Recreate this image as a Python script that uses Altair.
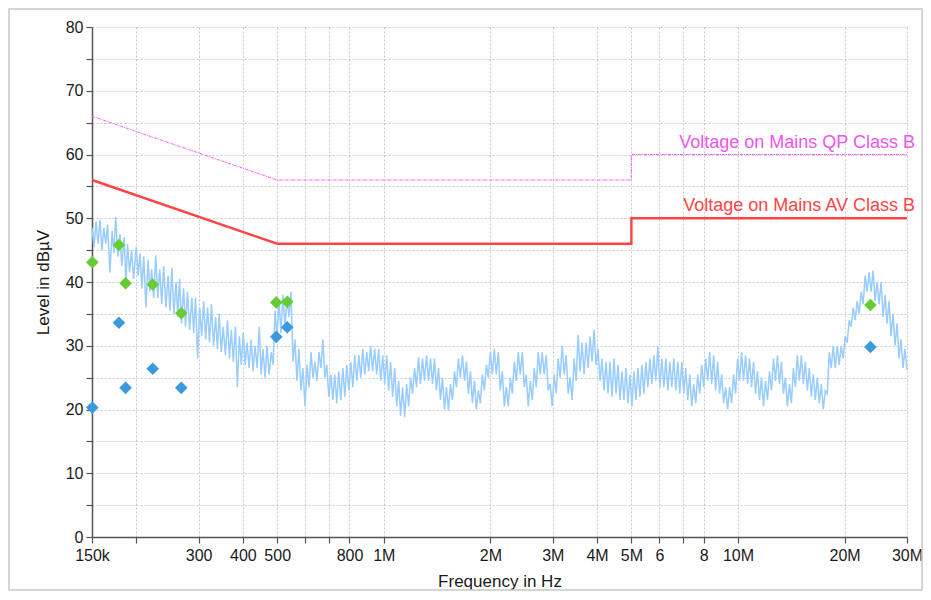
import altair as alt
import pandas as pd

# ---- measured spectrum (frequency in kHz, level in dBµV) ----
# upper edge of the noisy trace
trace_top_freq_khz = [
    150, 154, 158, 162, 166, 171, 175, 180, 185, 189,
    194, 200, 205, 210, 216, 221, 227, 233, 239, 246,
    252, 259, 265, 272, 279, 287, 294, 302, 310, 318,
    326, 335, 343, 352, 362, 371, 381, 391, 401, 411,
    422, 433, 445, 456, 468, 481, 493, 506, 519, 533,
    547, 561, 576, 591, 607, 623, 639, 656, 673, 690,
    709, 727, 746, 766, 786, 807, 828, 850, 872, 895,
    918, 942, 967, 993, 1019, 1045, 1073, 1101, 1130, 1160,
    1190, 1221, 1253, 1286, 1320, 1355, 1390, 1427, 1464, 1503,
    1542, 1583, 1624, 1667, 1711, 1756, 1802, 1849, 1898, 1948,
    1999, 2051, 2105, 2161, 2217, 2276, 2336, 2397, 2460, 2524,
    2591, 2659, 2729, 2800, 2874, 2949, 3027, 3106, 3188, 3272,
    3358, 3446, 3536, 3629, 3725, 3822, 3923, 4026, 4131, 4240,
    4351, 4466, 4583, 4703, 4827, 4953, 5083, 5217, 5354, 5494,
    5639, 5787, 5939, 6095, 6255, 6419, 6587, 6760, 6938, 7120,
    7307, 7499, 7696, 7898, 8105, 8318, 8536, 8760, 8990, 9226,
    9469, 9717, 9972, 10234, 10503, 10779, 11062, 11352, 11650, 11956,
    12270, 12592, 12923, 13262, 13610, 13967, 14334, 14710, 15096, 15493,
    15899, 16317, 16745, 17184, 17635, 18098, 18573, 19061, 19561, 20075,
    20601, 21142, 21697, 22267, 22851, 23451, 24067, 24698, 25347, 26012,
    26695, 27396, 28115, 28853, 29610, 30000,
]
trace_top_level = [
    48.5, 49.5, 49.8, 48.5, 49.0, 48.0, 50.2, 47.5, 47.0, 46.0,
    45.0, 45.5, 44.5, 44.0, 43.5, 42.0, 44.2, 42.0, 42.5, 41.0,
    42.2, 40.0, 40.5, 39.0, 38.5, 37.5, 37.5, 36.0, 37.0, 36.0,
    36.5, 34.5, 35.0, 33.0, 34.0, 32.5, 33.0, 31.5, 32.0, 30.5,
    31.0, 30.0, 33.0, 29.5, 30.0, 29.0, 35.5, 37.0, 38.0, 37.5,
    38.5, 31.0, 29.5, 26.5, 27.0, 29.0, 27.5, 29.0, 31.0, 27.0,
    25.5, 25.5, 26.0, 26.5, 27.0, 27.5, 28.5, 28.5, 29.5, 29.0,
    30.0, 29.5, 29.5, 28.5, 28.5, 27.5, 26.5, 24.5, 23.5, 24.0,
    25.0, 26.5, 28.2, 28.0, 28.5, 28.0, 28.0, 26.5, 25.0, 23.5,
    24.0, 26.0, 28.0, 28.5, 27.5, 26.0, 24.5, 23.0, 25.5, 27.0,
    29.0, 29.5, 29.0, 26.0, 23.5, 25.0, 27.5, 29.0, 29.0, 25.5,
    24.5, 26.5, 29.0, 29.0, 28.5, 24.0, 25.5, 28.0, 30.0, 28.5,
    25.0, 28.0, 31.7, 30.5, 30.5, 31.5, 32.5, 29.5, 28.0, 27.5,
    27.5, 28.0, 27.0, 26.0, 26.5, 25.5, 26.0, 26.5, 27.0, 27.5,
    28.0, 28.5, 29.8, 28.0, 28.0, 27.5, 28.0, 27.5, 27.5, 26.5,
    25.5, 24.0, 25.5, 27.0, 28.0, 29.0, 28.5, 27.5, 25.5, 23.5,
    23.5, 25.5, 28.0, 29.0, 28.5, 28.0, 27.5, 26.0, 25.0, 24.5,
    26.0, 28.0, 28.5, 27.5, 25.0, 24.0, 26.5, 28.5, 28.5, 27.5,
    26.5, 25.5, 25.0, 24.0, 23.0, 29.0, 30.0, 30.0, 30.0, 31.5,
    34.0, 36.0, 37.0, 38.5, 41.0, 41.5, 41.8, 40.0, 40.0, 38.0,
    37.0, 35.0, 33.5, 31.0, 29.5, 26.2,
]

# lower edge of the noisy trace
trace_low_freq_khz = [
    152, 156, 160, 164, 168.5, 173, 177.5, 182, 187, 191.5,
    196.5, 202.5, 207.5, 213, 218.5, 224, 230, 236, 242.5, 249,
    255.5, 262, 268.5, 275.5, 283, 290.5, 298, 306, 314, 322,
    330.5, 339, 347.5, 357, 366.5, 376, 386, 396, 406, 416.5,
    427.5, 439, 450.5, 462, 474.5, 487, 499.5, 512.5, 526, 540,
    554, 568.5, 583.5, 599, 615, 631, 647.5, 664.5, 681.5, 699.5,
    718, 736.5, 756, 776, 796.5, 817.5, 839, 861, 883.5, 906.5,
    930, 954.5, 980, 1006, 1032, 1059, 1087, 1115, 1145, 1175,
    1205, 1237, 1269, 1303, 1337, 1372, 1408, 1445, 1483, 1522,
    1562, 1603, 1645, 1689, 1733, 1779, 1825, 1873, 1923, 1973,
    2025, 2078, 2132, 2189, 2246, 2306, 2366, 2428, 2492, 2557,
    2625, 2694, 2765, 2837, 2911, 2987, 3066, 3147, 3230, 3315,
    3402, 3491, 3582, 3676, 3774, 3872, 3974, 4079, 4185, 4295,
    4408, 4524, 4643, 4764, 4890, 5018, 5149, 5285, 5424, 5566,
    5713, 5862, 6016, 6175, 6337, 6503, 6673, 6848, 7029, 7213,
    7402, 7597, 7796, 8001, 8211, 8426, 8647, 8874, 9107, 9346,
    9592, 9844, 10102, 10367, 10640, 10920, 11206, 11500, 11802, 12112,
    12430, 12756, 13092, 13435, 13787, 14149, 14521, 14902, 15293, 15695,
    16106, 16530, 16963, 17408, 17865, 18334, 18815, 19310, 19816, 20337,
    20870, 21418, 21980, 22557, 23149, 23757, 24381, 25020, 25678, 26351,
    27043, 27753, 28482, 29229,
]
trace_low_level = [
    45.5, 46.0, 45.0, 46.0, 41.5, 44.5, 44.0, 42.5, 39.5, 41.5,
    40.5, 41.0, 39.0, 36.0, 38.5, 37.5, 37.5, 36.5, 36.0, 35.5,
    35.0, 34.5, 33.5, 33.0, 32.5, 32.0, 28.0, 31.5, 31.0, 30.5,
    30.0, 29.5, 29.0, 28.5, 28.0, 27.5, 23.5, 27.0, 27.0, 26.5,
    26.0, 26.5, 25.5, 25.0, 25.5, 27.0, 31.5, 32.0, 33.0, 34.5,
    27.5, 24.5, 23.0, 20.5, 23.5, 25.0, 24.5, 26.5, 25.0, 22.0,
    21.5, 21.0, 21.5, 22.0, 23.0, 23.5, 24.5, 25.0, 25.5, 26.0,
    26.0, 25.5, 24.5, 24.0, 23.0, 22.0, 20.5, 19.0, 18.8, 20.5,
    22.5, 23.5, 24.0, 24.5, 24.5, 24.0, 23.0, 21.5, 20.0, 19.8,
    21.5, 23.5, 25.0, 24.5, 22.5, 21.0, 20.0, 21.0, 23.0, 25.0,
    25.5, 25.5, 23.0, 20.5, 20.5, 22.5, 24.5, 25.5, 23.5, 20.5,
    21.5, 23.5, 25.5, 25.5, 23.0, 20.5, 22.5, 25.0, 25.5, 22.5,
    21.5, 24.5, 26.0, 25.5, 26.5, 27.5, 27.0, 24.5, 23.0, 22.5,
    22.0, 22.5, 21.5, 21.5, 21.0, 20.5, 21.5, 22.0, 22.5, 23.5,
    24.0, 24.5, 23.5, 23.5, 23.0, 23.5, 23.0, 22.5, 22.5, 21.5,
    20.5, 21.0, 22.5, 23.5, 24.5, 24.0, 23.0, 22.5, 21.0, 20.0,
    21.0, 22.5, 24.5, 24.5, 24.0, 23.5, 22.5, 21.5, 20.5, 21.5,
    23.0, 24.5, 24.0, 22.5, 20.5, 21.0, 23.5, 24.5, 24.0, 23.0,
    22.0, 21.5, 21.0, 20.0, 22.5, 26.5, 26.5, 27.0, 28.0, 30.5,
    33.0, 34.0, 35.0, 36.5, 38.5, 38.5, 37.0, 36.5, 34.5, 33.5,
    31.5, 30.0, 28.0, 26.5,
]

# ---- final measurements ----
meas_freq_khz = [150.3, 178.7, 186.6, 222.6, 268.0, 497.0, 533.8, 23650]
qp_level = [43.1, 45.8, 39.8, 39.6, 35.1, 36.8, 36.9, 36.4]
av_level = [20.3, 33.6, 23.4, 26.4, 23.4, 31.4, 32.9, 29.8]

# ---- limit lines ----
limit_freq_khz = [150, 500, 5000, 5000, 30000]
limit_qp = [66, 56, 56, 60, 60]
limit_av = [56, 46, 46, 50, 50]
limit_label_qp = "Voltage on Mains QP Class B"
limit_label_av = "Voltage on Mains AV Class B"

# ---- axes ----
x_ticks = [150, 200, 300, 400, 500, 600, 700, 800, 1000, 2000, 3000, 4000,
           5000, 6000, 7000, 8000, 10000, 20000, 30000]
x_tick_labels = ["150k", "", "300", "400", "500", "", "", "800", "1M", "2M",
                 "3M", "4M", "5M", "6", "", "8", "10M", "20M", "30M"]
y_ticks = [0, 5, 10, 15, 20, 25, 30, 35, 40, 45, 50, 55, 60, 65, 70, 75, 80]

FONT = "Liberation Sans"
W, H = 815, 510
PAD = {"left": 84, "top": 19, "right": 16, "bottom": 54}

label_map = ", ".join(f"'{v}': '{t}'" for v, t in zip(x_ticks, x_tick_labels))
x_label_expr = "{" + label_map + "}[datum.value]"

x_axis = alt.Axis(values=x_ticks, labelExpr=x_label_expr, title="Frequency in Hz",
                  labelPadding=4, titlePadding=10, labelFlush=False, labelOverlap=False)
y_axis = alt.Axis(values=y_ticks, labelExpr="datum.value % 10 == 0 ? datum.label : ''",
                  title="Level in dBµV", labelPadding=3, titlePadding=13)

x_enc = alt.X("f:Q", scale=alt.Scale(type="log", domain=[150, 30000], nice=False), axis=x_axis)
y_enc = alt.Y("L:Q", scale=alt.Scale(domain=[0, 80], nice=False), axis=y_axis)

trace_df = pd.concat([
    pd.DataFrame({"f": trace_top_freq_khz, "L": trace_top_level}),
    pd.DataFrame({"f": trace_low_freq_khz, "L": trace_low_level}),
]).sort_values("f").reset_index(drop=True)
trace_df["i"] = range(len(trace_df))

qp_df = pd.DataFrame({"f": meas_freq_khz, "L": qp_level})
av_df = pd.DataFrame({"f": meas_freq_khz, "L": av_level})
lim_qp_df = pd.DataFrame({"f": limit_freq_khz, "L": limit_qp, "i": range(len(limit_qp))})
lim_av_df = pd.DataFrame({"f": limit_freq_khz, "L": limit_av, "i": range(len(limit_av))})
lab_qp_df = pd.DataFrame({"f": [limit_freq_khz[-1]], "L": [limit_qp[-1]], "t": [limit_label_qp]})
lab_av_df = pd.DataFrame({"f": [limit_freq_khz[-1]], "L": [limit_av[-1]], "t": [limit_label_av]})

frame = alt.Chart(pd.DataFrame({"a": [0]})).mark_rect(
    fillOpacity=0, stroke="#c8c8c8", strokeWidth=1.5
).encode(
    x=alt.value(-PAD["left"] + 1), x2=alt.value(W + PAD["right"] - 1),
    y=alt.value(-PAD["top"] + 1), y2=alt.value(H + PAD["bottom"] - 1),
)

trace = alt.Chart(trace_df).mark_line(color="#99ccff", strokeWidth=1.5).encode(
    x=x_enc, y=y_enc, order="i:Q")

lim_qp = alt.Chart(lim_qp_df).mark_line(
    color="#ff55ff", strokeWidth=1, strokeDash=[3, 1, 1, 1]
).encode(x=x_enc, y=y_enc, order="i:Q")

lim_av = alt.Chart(lim_av_df).mark_line(color="#ff4444", strokeWidth=2.4).encode(
    x=x_enc, y=y_enc, order="i:Q")

qp_pts = alt.Chart(qp_df).mark_point(
    shape="diamond", filled=True, size=160, color="#66cc33", opacity=1
).encode(x=x_enc, y=y_enc)

av_pts = alt.Chart(av_df).mark_point(
    shape="diamond", filled=True, size=160, color="#3d99dd", opacity=1
).encode(x=x_enc, y=y_enc)

lab_qp = alt.Chart(lab_qp_df).mark_text(
    align="right", baseline="bottom", dx=8, dy=-3, font=FONT, fontSize=18, color="#ee55ee"
).encode(x=x_enc, y=y_enc, text="t:N")

lab_av = alt.Chart(lab_av_df).mark_text(
    align="right", baseline="bottom", dx=8, dy=-3, font=FONT, fontSize=18, color="#ff4444"
).encode(x=x_enc, y=y_enc, text="t:N")

chart = alt.layer(
    frame, trace, lim_qp, lim_av, av_pts, qp_pts, lab_qp, lab_av
).properties(
    width=W, height=H,
    autosize=alt.AutoSizeParams(type="none"),
    padding=PAD,
    background="white",
).configure_view(
    strokeWidth=0
).configure_axis(
    grid=True, gridColor="#c8c8c8", gridDash=[2, 2], gridWidth=1,
    domainColor="#555555", domainWidth=1.5, tickColor="#555555", tickSize=6, tickWidth=1.2,
    labelFont=FONT, labelFontSize=16, labelColor="#1a1a1a",
    titleFont=FONT, titleFontSize=17, titleFontWeight="normal", titleColor="#1a1a1a",
)

chart.save("out.html", embed_options={"renderer": "svg", "actions": False})
